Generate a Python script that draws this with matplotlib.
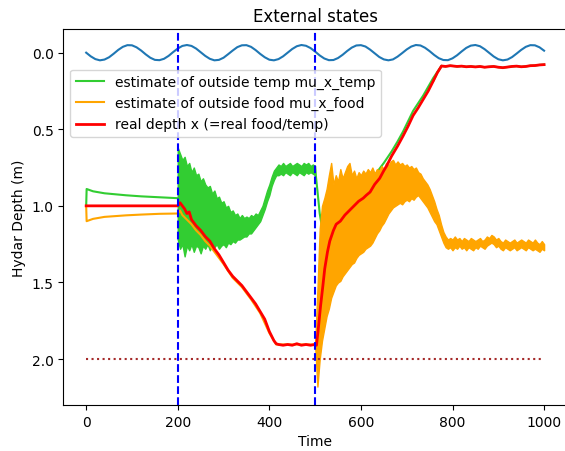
import matplotlib
matplotlib.use("Agg")
import matplotlib.pyplot as plt

# outside signal (sine near the surface), sampled every 10 time steps
sine_t = list(range(0, 1001, 10))
sine_v = [0.000, 0.024, 0.042, 0.050, 0.045, 0.030, 0.007, -0.018, -0.038, -0.049,
          -0.048, -0.035, -0.014, 0.011, 0.033, 0.047, 0.049, 0.040, 0.021, -0.004,
          -0.027, -0.044, -0.050, -0.044, -0.027, -0.003, 0.021, 0.040, 0.050, 0.047,
          0.033, 0.010, -0.014, -0.036, -0.048, -0.049, -0.038, -0.017, 0.008, 0.030,
          0.046, 0.050, 0.042, 0.024, 0.000, -0.024, -0.042, -0.050, -0.045, -0.030,
          -0.007, 0.018, 0.038, 0.049, 0.048, 0.035, 0.014, -0.011, -0.033, -0.047,
          -0.049, -0.040, -0.020, 0.004, 0.028, 0.044, 0.050, 0.044, 0.026, 0.003,
          -0.021, -0.040, -0.050, -0.047, -0.032, -0.010, 0.015, 0.036, 0.048, 0.049,
          0.037, 0.017, -0.008, -0.031, -0.046, -0.050, -0.042, -0.023, 0.001, 0.025,
          0.043, 0.050, 0.045, 0.029, 0.006, -0.018, -0.038, -0.049, -0.048, -0.035,
          -0.013]

# before the first switch
pre_t = [0, 1, 15, 40, 87, 120, 160, 200]
green_pre = [1.0, 0.89, 0.905, 0.918, 0.931, 0.938, 0.944, 0.95]
orange_pre = [1.0, 1.10, 1.085, 1.072, 1.062, 1.057, 1.052, 1.05]

# noisy temp estimate between 200 and 500 (upper / lower edge of the noise)
band1_t = list(range(200, 501, 5))
green_top = [0.62, 0.66, 0.70, 0.68, 0.74, 0.72, 0.78, 0.75, 0.80, 0.79,
             0.84, 0.82, 0.86, 0.88, 0.87, 0.92, 0.90, 0.95, 0.94, 0.98,
             0.97, 1.01, 1.00, 1.04, 1.03, 1.06, 1.05, 1.08, 1.06, 1.08,
             1.07, 1.08, 1.06, 1.07, 1.05, 1.06, 1.03, 1.00, 0.95, 0.90,
             0.86, 0.81, 0.77, 0.75, 0.73, 0.74, 0.72, 0.74, 0.73, 0.72,
             0.74, 0.73, 0.72, 0.73, 0.74, 0.72, 0.73, 0.72, 0.74, 0.73,
             0.74]
green_bot = [1.22, 1.28, 1.25, 1.33, 1.26, 1.29, 1.25, 1.30, 1.26, 1.27,
             1.31, 1.26, 1.28, 1.25, 1.29, 1.26, 1.27, 1.25, 1.28, 1.26,
             1.25, 1.27, 1.24, 1.25, 1.23, 1.24, 1.22, 1.22, 1.21, 1.20,
             1.20, 1.18, 1.18, 1.16, 1.14, 1.12, 1.10, 1.06, 1.02, 0.97,
             0.93, 0.87, 0.83, 0.80, 0.80, 0.79, 0.80, 0.78, 0.79, 0.80,
             0.78, 0.79, 0.80, 0.78, 0.79, 0.80, 0.78, 0.79, 0.78, 0.79,
             0.80]

# temp estimate after the second switch
green_post_t = [500, 505, 510, 515, 540, 580, 610, 635, 650, 667, 680, 692, 714, 736, 758, 776]
green_post = [0.76, 0.90, 1.05, 1.14, 1.08, 0.98, 0.88, 0.78, 0.72, 0.645, 0.58, 0.515,
              0.38, 0.28, 0.165, 0.087]

# food estimate between 200 and 500 (close to real depth)
orange_mid_t = [200, 205, 210, 220, 230, 240, 250, 260, 270, 280, 290, 300, 320,
                340, 360, 380, 400, 415, 450, 500]
orange_mid = [1.05, 1.03, 1.06, 1.09, 1.12, 1.16, 1.19, 1.23, 1.26, 1.30, 1.34, 1.38,
              1.47, 1.53, 1.61, 1.70, 1.83, 1.905, 1.905, 1.905]

# noisy food estimate after 500
band2_t = list(range(500, 1001, 5))
orange_top = [1.90, 1.55, 1.15, 1.00, 0.95, 0.89, 0.80, 0.72, 0.86, 0.80,
              0.84, 0.76, 0.82, 0.78, 0.74, 0.72, 0.80, 0.77, 0.82, 0.78,
              0.80, 0.77, 0.79, 0.76, 0.78, 0.75, 0.79, 0.76, 0.77, 0.74,
              0.76, 0.72, 0.74, 0.71, 0.70, 0.73, 0.71, 0.73, 0.72, 0.74,
              0.73, 0.75, 0.74, 0.76, 0.75, 0.78, 0.79, 0.82, 0.84, 0.86,
              0.89, 0.93, 0.97, 1.02, 1.06, 1.12, 1.17, 1.20, 1.22, 1.21,
              1.22, 1.20, 1.22, 1.21, 1.23, 1.21, 1.22, 1.23, 1.21, 1.22,
              1.23, 1.22, 1.21, 1.23, 1.22, 1.20, 1.21, 1.19, 1.20, 1.22,
              1.21, 1.23, 1.24, 1.22, 1.23, 1.24, 1.23, 1.22, 1.24, 1.23,
              1.22, 1.23, 1.24, 1.22, 1.23, 1.24, 1.22, 1.24, 1.25, 1.23,
              1.25]
orange_bot = [1.91, 2.18, 2.00, 1.88, 1.80, 1.72, 1.67, 1.60, 1.56, 1.52,
              1.50, 1.49, 1.46, 1.44, 1.42, 1.40, 1.38, 1.37, 1.34, 1.32,
              1.31, 1.30, 1.28, 1.27, 1.26, 1.24, 1.21, 1.18, 1.16, 1.13,
              1.11, 1.08, 1.05, 1.03, 1.01, 1.00, 0.99, 0.98, 0.99, 0.97,
              0.96, 0.97, 0.95, 0.96, 0.94, 0.93, 0.95, 0.97, 0.99, 1.01,
              1.04, 1.07, 1.10, 1.12, 1.16, 1.20, 1.24, 1.27, 1.28, 1.27,
              1.29, 1.27, 1.28, 1.26, 1.28, 1.27, 1.29, 1.27, 1.28, 1.29,
              1.27, 1.28, 1.26, 1.27, 1.28, 1.26, 1.25, 1.24, 1.25, 1.27,
              1.26, 1.28, 1.29, 1.27, 1.28, 1.29, 1.28, 1.27, 1.29, 1.28,
              1.27, 1.28, 1.29, 1.27, 1.28, 1.29, 1.28, 1.29, 1.30, 1.28,
              1.29]

# real depth
red_t = [0, 200, 205, 210, 215, 220, 225, 230, 240, 250, 260, 270, 280, 290, 300,
         310, 320, 330, 340, 350, 360, 370, 380, 390, 400, 410, 415, 420, 430, 440,
         450, 460, 470, 480, 490, 500, 503, 507, 512, 517, 521, 527, 532, 540, 546,
         555, 565, 575, 585, 595, 605, 612, 620, 630, 641, 650, 656, 667, 680, 692,
         703, 714, 725, 736, 747, 758, 767, 776, 785, 795, 810, 820, 830, 840, 850,
         860, 870, 880, 890, 900, 910, 920, 930, 940, 950, 960, 970, 980, 990, 1000]
red_v = [1.0, 1.0, 0.98, 1.00, 1.02, 1.05, 1.04, 1.09, 1.13, 1.16, 1.20, 1.23, 1.28,
         1.32, 1.37, 1.42, 1.46, 1.49, 1.52, 1.56, 1.60, 1.64, 1.69, 1.74, 1.82, 1.88,
         1.90, 1.905, 1.91, 1.905, 1.91, 1.90, 1.91, 1.905, 1.91, 1.905, 1.91, 1.80,
         1.65, 1.52, 1.41, 1.30, 1.23, 1.16, 1.12, 1.10, 1.06, 1.03, 1.00, 0.97, 0.95,
         0.93, 0.91, 0.86, 0.82, 0.77, 0.74, 0.675, 0.61, 0.544, 0.48, 0.41, 0.36,
         0.305, 0.25, 0.185, 0.13, 0.087, 0.09, 0.085, 0.09, 0.088, 0.092, 0.09, 0.093,
         0.09, 0.095, 0.092, 0.09, 0.095, 0.098, 0.094, 0.09, 0.088, 0.092, 0.09,
         0.085, 0.084, 0.08, 0.078]

switch_times = [200, 500]
limit_depth = 2.0
limit_span = [0, 1000]

fig = plt.figure(figsize=(5.65, 4.52), dpi=100)
ax = fig.add_axes([0.112, 0.1018, 0.8915, 0.832])

ax.plot(sine_t, sine_v, color="C0", lw=1.5)

green = "limegreen"
orange = "orange"
ax.plot(pre_t, green_pre, color=green, lw=1.5, label="estimate of outside temp mu_x_temp")
ax.fill_between(band1_t, green_top, green_bot, color=green, lw=1.0, zorder=2)
ax.plot(green_post_t, green_post, color=green, lw=1.5)
ax.plot(red_t[-25:], red_v[-25:], color=green, lw=1.5)

ax.plot(pre_t, orange_pre, color=orange, lw=1.5, label="estimate of outside food mu_x_food")
ax.plot(orange_mid_t, orange_mid, color=orange, lw=1.5)
ax.fill_between(band2_t, orange_top, orange_bot, color=orange, lw=1.0, zorder=2)

ax.plot(red_t, red_v, color="red", lw=2, label="real depth x (=real food/temp)")

ax.hlines(limit_depth, limit_span[0], limit_span[1], colors="brown", linestyles=":", lw=1.5)
for st in switch_times:
    ax.axvline(st, color="b", ls="--", lw=1.5)

ax.set_xlim(-50, 1050)
ax.set_ylim(2.30, -0.155)
ax.set_xticks([0, 200, 400, 600, 800, 1000])
ax.set_yticks([0.0, 0.5, 1.0, 1.5, 2.0])
ax.set_title("External states")
ax.set_xlabel("Time")
ax.set_ylabel("Hydar Depth (m)")
ax.legend(loc="upper left", bbox_to_anchor=(0, 0.91))

fig.savefig("out.png", dpi=100)
